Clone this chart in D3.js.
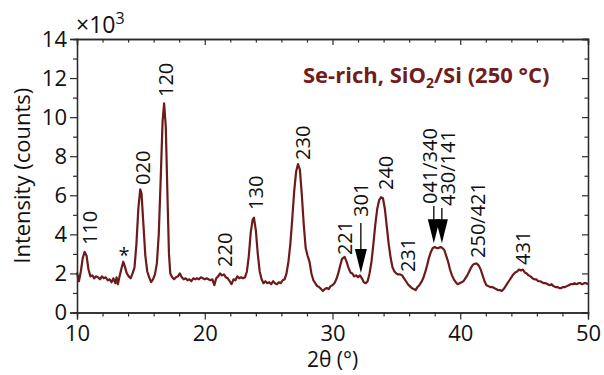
<!DOCTYPE html>
<html>
<head>
<meta charset="utf-8">
<script src="https://cdn.jsdelivr.net/npm/d3@7"></script>
<style>
  html, body { margin: 0; padding: 0; background: #fff; }
  svg { display: block; font-family: "Open Sans", "DejaVu Sans", sans-serif; }
</style>
</head>
<body>
<svg id="chart" width="604" height="375"></svg>
<script>
// 2θ positions (degrees) of the measured diffractogram
const twoTheta = [
  10.0, 10.15, 10.3, 10.45, 10.6, 10.75, 10.9, 11.05, 11.2, 11.35, 11.5, 11.65, 11.8, 11.95,
  12.1, 12.25, 12.4, 12.55, 12.7, 12.85, 13.0, 13.1, 13.2, 13.35, 13.5, 13.62, 13.75, 13.9,
  14.05, 14.2, 14.35, 14.5, 14.65, 14.8, 14.95, 15.05, 15.2, 15.35, 15.5, 15.65, 15.8, 15.95,
  16.1, 16.25, 16.4, 16.55, 16.7, 16.82, 16.95, 17.1, 17.2, 17.3, 17.45, 17.6, 17.75, 17.9,
  18.05, 18.2, 18.35, 18.5, 18.65, 18.8, 18.95, 19.1, 19.25, 19.4, 19.55, 19.7, 19.85, 20.0,
  20.15, 20.3, 20.45, 20.6, 20.75, 20.9, 21.05, 21.2, 21.35, 21.5, 21.65, 21.8, 21.95, 22.1,
  22.25, 22.4, 22.55, 22.7, 22.85, 23.0, 23.15, 23.3, 23.45, 23.6, 23.75, 23.85, 24.0, 24.15,
  24.3, 24.45, 24.6, 24.75, 24.9, 25.05, 25.2, 25.35, 25.5, 25.65, 25.8, 25.95, 26.1, 26.25,
  26.4, 26.55, 26.7, 26.85, 27.0, 27.15, 27.3, 27.45, 27.6, 27.75, 27.9, 28.05, 28.2, 28.35,
  28.5, 28.65, 28.8, 28.95, 29.1, 29.25, 29.4, 29.55, 29.7, 29.85, 30.0, 30.15, 30.3, 30.45,
  30.6, 30.75, 30.95, 31.1, 31.25, 31.4, 31.55, 31.7, 31.85, 32.0, 32.15, 32.3, 32.45, 32.6,
  32.75, 32.9, 33.05, 33.2, 33.35, 33.5, 33.65, 33.8, 33.95, 34.1, 34.25, 34.4, 34.55, 34.7,
  34.85, 35.0, 35.15, 35.3, 35.45, 35.6, 35.75, 35.9, 36.05, 36.2, 36.35, 36.5, 36.65, 36.8,
  36.95, 37.1, 37.25, 37.4, 37.55, 37.7, 37.85, 38.0, 38.15, 38.3, 38.45, 38.6, 38.75, 38.9,
  39.05, 39.2, 39.35, 39.5, 39.65, 39.8, 39.95, 40.1, 40.25, 40.4, 40.55, 40.7, 40.85, 41.0,
  41.15, 41.3, 41.45, 41.6, 41.75, 41.9, 42.05, 42.2, 42.35, 42.5, 42.65, 42.8, 42.95, 43.1,
  43.25, 43.4, 43.55, 43.7, 43.85, 44.0, 44.15, 44.3, 44.45, 44.6, 44.75, 44.9, 45.05, 45.2,
  45.35, 45.5, 45.65, 45.8, 45.95, 46.1, 46.25, 46.4, 46.55, 46.7, 46.85, 47.0, 47.15, 47.3,
  47.45, 47.6, 47.75, 47.9, 48.05, 48.2, 48.35, 48.5, 48.65, 48.8, 48.95, 49.1, 49.25, 49.4,
  49.55, 49.7, 49.85, 50.0
];

// Intensity in thousands of counts, one value per 2θ position
const intensity = [
  2.05, 1.60, 2.10, 2.80, 3.10, 2.90, 2.20, 1.85, 1.90, 1.75, 1.85, 1.80, 1.70, 1.85,
  1.75, 1.80, 1.65, 1.70, 1.55, 1.75, 1.50, 1.80, 1.45, 1.90, 2.30, 2.60, 2.35, 2.00,
  1.85, 1.75, 2.00, 2.30, 3.50, 5.30, 6.30, 6.10, 4.50, 2.90, 2.10, 1.80, 1.55, 1.70,
  1.95, 2.50, 4.00, 6.80, 9.80, 10.70, 9.50, 5.50, 3.00, 2.00, 1.80, 1.70, 1.80, 1.85,
  2.00, 1.80, 1.70, 1.75, 1.65, 1.70, 1.60, 1.75, 1.70, 1.75, 1.70, 1.80, 1.75, 1.70,
  1.75, 1.70, 1.65, 1.70, 1.40, 1.75, 1.85, 2.00, 1.90, 1.95, 1.80, 1.75, 1.60, 1.45,
  1.70, 1.65, 1.85, 1.75, 1.80, 1.75, 1.80, 2.10, 2.90, 4.10, 4.75, 4.85, 4.20, 3.00,
  2.10, 1.70, 1.50, 1.60, 1.50, 1.55, 1.45, 1.60, 1.50, 1.45, 1.55, 1.50, 1.65, 1.70,
  2.00, 2.60, 3.50, 4.80, 6.20, 7.20, 7.60, 7.30, 6.00, 4.50, 3.30, 2.90, 2.60, 2.00,
  1.65, 1.50, 1.35, 1.30, 1.20, 1.10, 1.20, 1.25, 1.20, 1.35, 1.40, 1.50, 1.70, 2.00,
  2.40, 2.75, 2.85, 2.60, 2.30, 2.05, 2.00, 1.85, 1.90, 1.80, 1.90, 1.75, 1.55, 1.50,
  1.60, 2.00, 2.60, 3.50, 4.50, 5.30, 5.75, 5.90, 5.85, 5.30, 4.40, 3.50, 2.80, 2.30,
  2.10, 2.00, 1.95, 1.95, 1.90, 1.75, 1.60, 1.45, 1.35, 1.25, 1.20, 1.15, 1.30, 1.40,
  1.55, 1.75, 2.05, 2.40, 2.80, 3.10, 3.30, 3.35, 3.30, 3.30, 3.35, 3.30, 3.20, 2.90,
  2.60, 2.20, 1.90, 1.70, 1.55, 1.45, 1.50, 1.55, 1.60, 1.75, 1.90, 2.10, 2.30, 2.45,
  2.50, 2.50, 2.40, 2.20, 1.90, 1.60, 1.40, 1.35, 1.30, 1.30, 1.25, 1.20, 1.15, 1.15,
  1.10, 1.20, 1.35, 1.50, 1.65, 1.80, 1.95, 2.05, 2.10, 2.20, 2.15, 2.20, 2.05, 2.00,
  1.90, 1.85, 1.75, 1.70, 1.70, 1.60, 1.60, 1.55, 1.50, 1.50, 1.45, 1.40, 1.45, 1.35,
  1.30, 1.30, 1.25, 1.25, 1.30, 1.30, 1.35, 1.40, 1.45, 1.45, 1.50, 1.45, 1.50, 1.50,
  1.45, 1.50, 1.50, 1.45
];

// Axis ticks
const xMajorTicks = [10, 20, 30, 40, 50];
const xMinorTicks = [12, 14, 16, 18, 22, 24, 26, 28, 32, 34, 36, 38, 42, 44, 46, 48];
const yMajorTicks = [0, 2, 4, 6, 8, 10, 12, 14];
const yMinorTicks = [1, 3, 5, 7, 9, 11, 13];

// Reflection labels: text and anchor (2θ, intensity ×10³) of the label start
const peakLabels = ["110", "020", "120", "220", "130", "230", "221", "301", "240", "231", "041/340", "430/141", "250/421", "431"];
const peakLabelX = [11.57, 15.71, 17.51, 22.13, 24.56, 28.24, 31.53, 32.78, 34.74, 36.46, 38.18, 39.59, 41.94, 45.46];
const peakLabelY = [3.45, 6.53, 11.03, 2.33, 5.25, 7.81, 2.94, 4.89, 6.27, 2.07, 5.55, 5.45, 2.79, 2.43];

// Arrows marking weak reflections: 2θ, tip and tail intensity (×10³)
const arrowX = [32.22, 37.93, 38.56];
const arrowTipY = [2.02, 3.55, 3.55];
const arrowTailY = [4.58, 5.45, 5.35];

// Impurity marker
const starX = 13.68;
const starY = 2.58;

const lineColor = "#6c1a1a";
const axisColor = "#2b2b2b";

const svg = d3.select("#chart");
const plotLeft = 77, plotRight = 588, plotTop = 39, plotBottom = 312.5;

const x = d3.scaleLinear().domain([10, 50]).range([plotLeft, plotRight]);
const y = d3.scaleLinear().domain([0, 14]).range([plotBottom, plotTop]);

// Data curve
const points = twoTheta.map((t, i) => [t, intensity[i]]);
svg.append("path")
  .datum(points)
  .attr("fill", "none")
  .attr("stroke", lineColor)
  .attr("stroke-width", 2.2)
  .attr("stroke-linejoin", "round")
  .attr("d", d3.line().x(d => x(d[0])).y(d => y(d[1])));

// Axes: outward ticks on bottom/left, inward mirror ticks on top/right
function axisGroup(axis, transform) {
  const g = svg.append("g").attr("transform", transform).call(axis);
  g.selectAll("line").attr("stroke", axisColor).attr("stroke-width", 1.2);
  g.select(".domain").attr("stroke", axisColor).attr("stroke-width", 1.3);
  return g;
}

const tickFont = 22;
const xb = axisGroup(d3.axisBottom(x).tickValues(xMajorTicks).tickSize(7).tickPadding(6).tickFormat(d3.format("d")),
  `translate(0,${plotBottom})`);
xb.selectAll("text").attr("font-size", tickFont).attr("fill", "#111").attr("font-family", "Open Sans");
axisGroup(d3.axisBottom(x).tickValues(xMinorTicks).tickSize(4).tickFormat(""), `translate(0,${plotBottom})`);

const yl = axisGroup(d3.axisLeft(y).tickValues(yMajorTicks).tickSize(7).tickPadding(3).tickFormat(d3.format("d")),
  `translate(${plotLeft},0)`);
yl.selectAll("text").attr("font-size", tickFont).attr("fill", "#111").attr("font-family", "Open Sans");
axisGroup(d3.axisLeft(y).tickValues(yMinorTicks).tickSize(4).tickFormat(""), `translate(${plotLeft},0)`);

axisGroup(d3.axisBottom(x).tickValues(xMajorTicks).tickSize(6).tickFormat(""), `translate(0,${plotTop})`);
axisGroup(d3.axisBottom(x).tickValues(xMinorTicks).tickSize(3.5).tickFormat(""), `translate(0,${plotTop})`);
axisGroup(d3.axisLeft(y).tickValues(yMajorTicks).tickSize(6).tickFormat(""), `translate(${plotRight},0)`);
axisGroup(d3.axisLeft(y).tickValues(yMinorTicks).tickSize(3.5).tickFormat(""), `translate(${plotRight},0)`);

// Axis titles
svg.append("text")
  .attr("transform", `translate(30,${(plotTop + plotBottom) / 2}) rotate(-90)`)
  .attr("text-anchor", "middle")
  .attr("font-size", 22).attr("fill", "#111")
  .text("Intensity (counts)");

svg.append("text")
  .attr("x", (plotLeft + plotRight) / 2).attr("y", 367)
  .attr("text-anchor", "middle")
  .attr("font-size", 21).attr("fill", "#111")
  .text("2θ (°)");

// Multiplier
const mult = svg.append("text").attr("x", 76).attr("y", 33)
  .attr("font-size", 23).attr("fill", "#111");
mult.append("tspan").text("×10");
mult.append("tspan").attr("font-size", 16).attr("dy", -9).text("3");

// Sample title
const title = svg.append("text").attr("x", 303).attr("y", 83)
  .attr("font-size", 22).attr("font-weight", "bold").attr("fill", "#731c1c");
title.append("tspan").text("Se-rich, SiO");
title.append("tspan").attr("font-size", 14).attr("dy", 5).text("2");
title.append("tspan").attr("dy", -5).text("/Si (250 °C)");

// Reflection labels, rotated
peakLabels.forEach((lab, i) => {
  svg.append("text")
    .attr("transform", `translate(${x(peakLabelX[i])},${y(peakLabelY[i])}) rotate(-90)`)
    .attr("font-size", 20).attr("fill", "#111")
    .text(lab);
});

// Asterisk
svg.append("text")
  .attr("x", x(starX)).attr("y", y(starY))
  .attr("text-anchor", "middle")
  .attr("font-size", 20).attr("fill", "#111")
  .text("*");

// Arrows
arrowX.forEach((ax, i) => {
  const px = x(ax), tip = y(arrowTipY[i]), tail = y(arrowTailY[i]);
  const headLen = 24, headW = 6;
  svg.append("line")
    .attr("x1", px).attr("x2", px).attr("y1", tail).attr("y2", tip - headLen + 2)
    .attr("stroke", "#000").attr("stroke-width", 1.3);
  svg.append("path")
    .attr("d", `M${px - headW},${tip - headLen} L${px + headW},${tip - headLen} L${px},${tip} Z`)
    .attr("fill", "#000");
});
</script>
</body>
</html>
